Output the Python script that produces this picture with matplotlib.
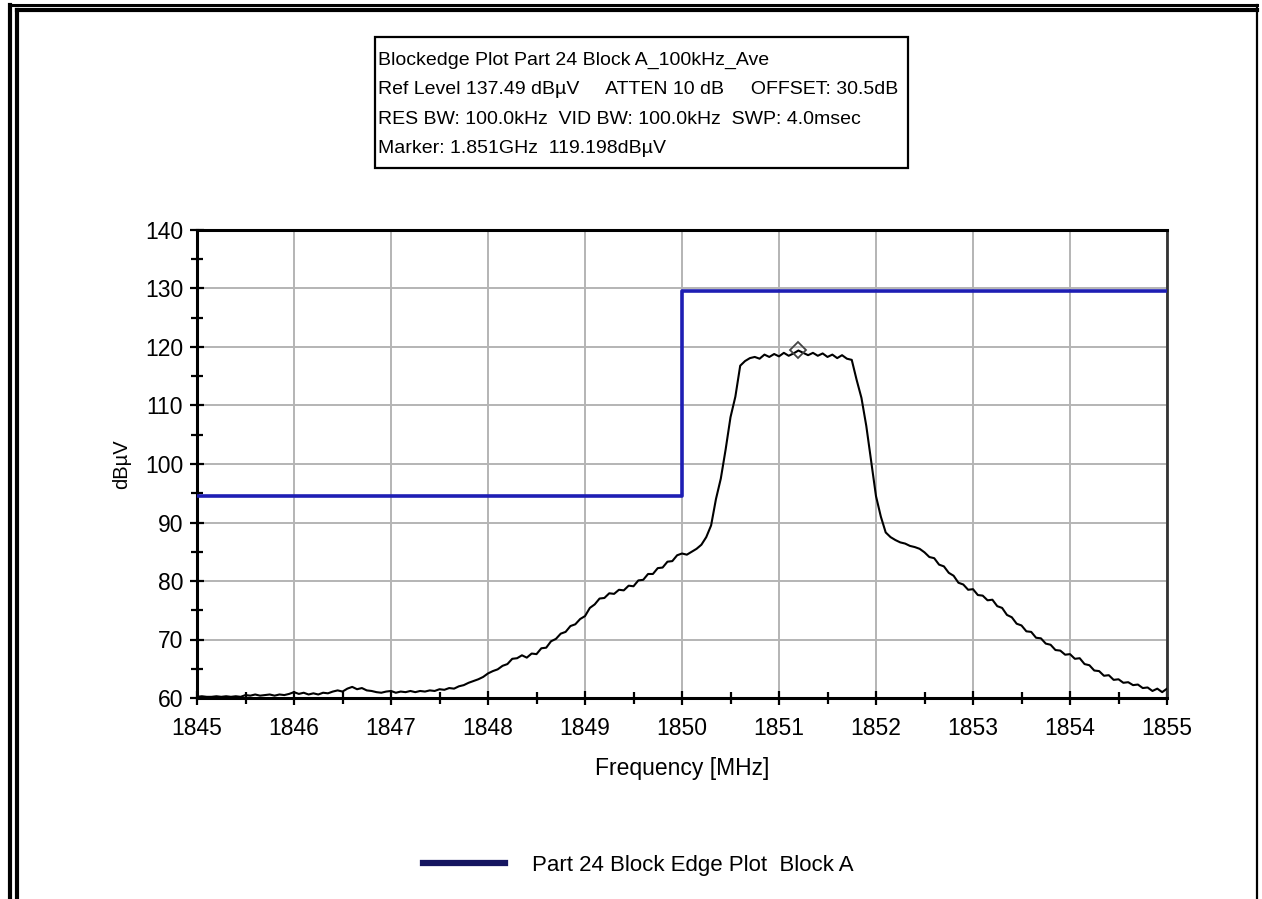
import numpy as np
import matplotlib
matplotlib.use("Agg")
import matplotlib.pyplot as plt
from matplotlib.lines import Line2D
from matplotlib.patches import Rectangle
from matplotlib.ticker import MultipleLocator

plt.rcParams['font.family'] = ['Liberation Sans', 'DejaVu Sans']

# header lines of the analyzer plot
header_lines = [
    "Blockedge Plot Part 24 Block A_100kHz_Ave",
    "Ref Level 137.49 dB\u00b5V     ATTEN 10 dB     OFFSET: 30.5dB",
    "RES BW: 100.0kHz  VID BW: 100.0kHz  SWP: 4.0msec",
    "Marker: 1.851GHz  119.198dB\u00b5V",
]

freq_start = 1845.0
freq_step = 0.05
trace_dbuv = [
    60.2, 60.3, 60.2, 60.2, 60.3, 60.2, 60.3, 60.2, 60.3, 60.2,
    60.5, 60.4, 60.6, 60.4, 60.5, 60.6, 60.4, 60.6, 60.5, 60.7,
    61.0, 60.7, 60.9, 60.6, 60.8, 60.6, 60.9, 60.8, 61.1, 61.3,
    61.1, 61.6, 61.9, 61.5, 61.7, 61.3, 61.2, 61.0, 60.9, 61.1,
    61.2, 60.9, 61.1, 61.0, 61.2, 61.0, 61.2, 61.1, 61.3, 61.2,
    61.5, 61.4, 61.7, 61.6, 62.0, 62.2, 62.6, 62.9, 63.2, 63.6,
    64.2, 64.6, 64.9, 65.5, 65.8, 66.7, 66.8, 67.3, 66.9, 67.6,
    67.5, 68.5, 68.6, 69.7, 70.1, 71.0, 71.3, 72.3, 72.6, 73.5,
    74.0, 75.4, 76.0, 77.0, 77.1, 77.9, 77.8, 78.5, 78.4, 79.2,
    79.1, 80.1, 80.2, 81.2, 81.2, 82.2, 82.3, 83.3, 83.4, 84.4,
    84.7, 84.5, 85.0, 85.5, 86.2, 87.5, 89.5, 94.0, 97.5, 102.5,
    108.0, 111.5, 116.8, 117.6, 118.1, 118.3, 118.0, 118.7, 118.3, 118.8,
    118.4, 119.0, 118.5, 118.9, 119.4, 119.0, 118.6, 119.0, 118.5, 118.9,
    118.3, 118.7, 118.1, 118.6, 118.0, 117.8, 114.4, 111.3, 106.5, 100.5,
    94.5, 91.0, 88.3, 87.5, 87.0, 86.6, 86.4, 86.0, 85.8, 85.5,
    84.9, 84.1, 83.9, 82.8, 82.5, 81.4, 80.9, 79.7, 79.4, 78.5,
    78.6, 77.6, 77.5, 76.7, 76.8, 75.7, 75.4, 74.2, 73.8, 72.7,
    72.4, 71.4, 71.3, 70.3, 70.2, 69.3, 69.1, 68.2, 68.1, 67.4,
    67.5, 66.7, 66.8, 65.8, 65.6, 64.7, 64.6, 63.8, 63.9, 63.1,
    63.2, 62.6, 62.7, 62.2, 62.3, 61.7, 61.8, 61.2, 61.6, 61.0,
    61.6,
]
trace_freq = freq_start + freq_step * np.arange(len(trace_dbuv))

# block edge limit line
limit_freq = [1845, 1850, 1850, 1855]
limit_dbuv = [94.5, 94.5, 129.6, 129.6]

marker_freq = 1851.2
marker_dbuv = 119.5

legend_label = "Part 24 Block Edge Plot  Block A"

W, H = 1262, 899
fig = plt.figure(figsize=(W / 100, H / 100), dpi=100)
ax = fig.add_axes([197 / W, 1 - 698 / H, (1167 - 197) / W, (698 - 230) / H])

ax.plot(trace_freq, trace_dbuv, color='black', lw=1.5, zorder=3)
ax.plot(limit_freq, limit_dbuv, color='#1e1eb4', lw=2.6, zorder=4)
ax.plot([marker_freq], [marker_dbuv], marker='D', ms=8, mfc='none',
        mec='#444444', mew=1.3, zorder=5)

ax.set_xlim(1845, 1855)
ax.set_ylim(60, 140)
ax.xaxis.set_major_locator(MultipleLocator(1))
ax.xaxis.set_minor_locator(MultipleLocator(0.5))
ax.yaxis.set_major_locator(MultipleLocator(10))
ax.yaxis.set_minor_locator(MultipleLocator(5))
ax.tick_params(which='both', direction='inout', width=1.6, color='black',
               labelsize=16.5)
ax.tick_params(which='major', length=10)
ax.tick_params(which='minor', length=9)
ax.tick_params(axis='x', pad=9)
ax.tick_params(axis='y', pad=5)
ax.grid(which='major', color='#b4b4b4', lw=1.4)
ax.set_axisbelow(True)
for side in ['left', 'bottom', 'top']:
    ax.spines[side].set_linewidth(2.2)
    ax.spines[side].set_color('black')
ax.spines['right'].set_linewidth(2.0)
ax.spines['right'].set_color('#333333')

ax.set_xlabel("Frequency [MHz]", fontsize=16.5, labelpad=12)
ax.set_ylabel("dB\u00b5V", fontsize=14.5, labelpad=10)

# header box
fig.add_artist(Rectangle((375 / W, 1 - 168 / H), (908 - 375) / W, (168 - 37) / H,
                         transform=fig.transFigure, fill=False,
                         ec='black', lw=1.6))
for i, line in enumerate(header_lines):
    fig.text(378 / W, 1 - (60 + 29.5 * i) / H, line, fontsize=14,
             ha='left', va='center')

# legend
handle = Line2D([], [], color='#151560', lw=4.5)
fig.legend([handle], [legend_label], loc='center left',
           bbox_to_anchor=(423 / W, 1 - 865 / H), frameon=False,
           fontsize=16, handlelength=3.7, handletextpad=1.2,
           borderpad=0, borderaxespad=0)

# outer window frame
frame = [
    ((10, 10), (5, H), 3.0),
    ((17, 17), (10, H), 3.0),
    ((10, 1257), (5, 5), 2.2),
    ((17, 1257), (10, 10), 3.0),
    ((1257, 1257), (5, H), 1.6),
]
for xs, ys, lw in frame:
    fig.add_artist(Line2D([x / W for x in xs], [1 - y / H for y in ys],
                          transform=fig.transFigure, color='black', lw=lw))

fig.savefig("out.png", dpi=100)
